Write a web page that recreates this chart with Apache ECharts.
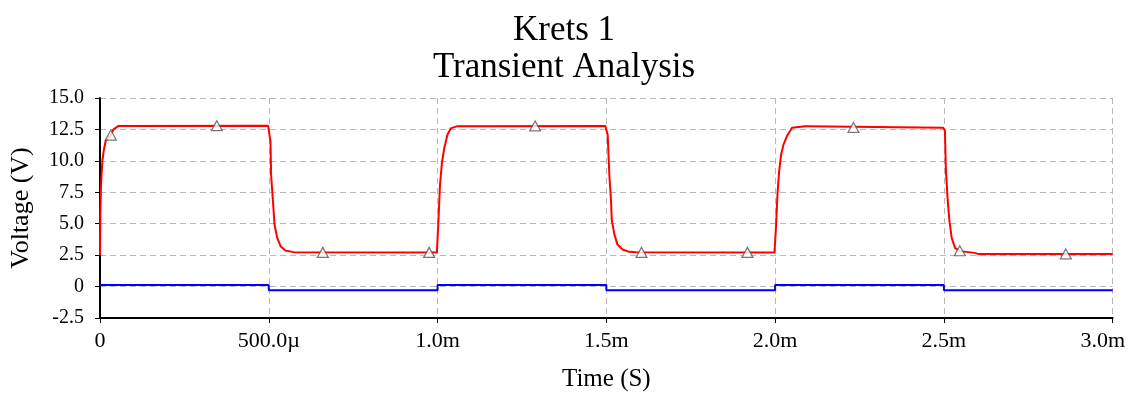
<!DOCTYPE html>
<html>
<head>
<meta charset="utf-8">
<script src="https://cdn.jsdelivr.net/npm/echarts@6/dist/echarts.min.js"></script>
<style>
html,body{margin:0;padding:0;background:#fff;}
#chart{width:1128px;height:399px;}
</style>
</head>
<body>
<div id="chart"></div>
<script>
// Time in microseconds
const xTicks = [0, 500, 1000, 1500, 2000, 2500, 3000];
const xTickLabels = ['0', '500.0\u00b5', '1.0m', '1.5m', '2.0m', '2.5m', '3.0m'];
const yTicks = [-2.5, 0, 2.5, 5, 7.5, 10, 12.5, 15];
const yTickLabels = ['-2.5', '0', '2.5', '5.0', '7.5', '10.0', '12.5', '15.0'];

// Red trace (output voltage)
const redT = [
  0, 1, 3, 7, 11, 17, 32, 40, 55, 498,
  500, 505, 507, 513, 517, 525, 535, 549, 574, 998,
  1000, 1003, 1007, 1013, 1020, 1029, 1039, 1059, 1497,
  1499, 1504, 1509, 1514, 1516, 1524, 1533, 1548, 1568, 1588, 1998,
  2000, 2003, 2007, 2012, 2018, 2025, 2035, 2050, 2089, 2095, 2100, 2498,
  2500, 2503, 2506, 2511, 2516, 2523, 2533, 2547, 2591, 2601, 3000
];
const redV = [
  2.5, 5.7, 8.1, 10.0, 10.8, 11.6, 12.05, 12.5, 12.78, 12.8,
  12.8, 11.55, 8.82, 6.55, 4.92, 3.87, 3.21, 2.87, 2.74, 2.72,
  2.72, 5.46, 8.03, 9.87, 11.03, 12.06, 12.58, 12.76, 12.78,
  12.78, 12.06, 8.82, 6.77, 5.3, 4.13, 3.34, 2.95, 2.76, 2.74, 2.72,
  2.68, 4.92, 7.37, 9.21, 10.53, 11.31, 11.97, 12.63, 12.76, 12.76, 12.66, 12.63,
  12.63, 12.4, 9.2, 6.96, 5.3, 3.87, 3.08, 2.82, 2.68, 2.6, 2.6
];

// Blue trace (input, step)
const blueT = [0, 500, 1000, 1500, 2000, 2500, 3000];
const blueV = [0.13, -0.3, 0.13, -0.3, 0.13, -0.3, -0.3];

// Triangle markers on the red trace
const markT = [32, 346, 660, 975, 1289, 1604, 1918, 2232, 2547, 2861];
const markV = [12.05, 12.8, 2.72, 2.72, 12.78, 2.72, 2.72, 12.66, 2.85, 2.6];

const FONT = 'Liberation Serif';
const zip = (a, b) => a.map((v, i) => [v, b[i]]);

const chart = echarts.init(document.getElementById('chart'), null, {renderer: 'canvas'});
chart.setOption({
  backgroundColor: '#ffffff',
  animation: false,
  title: {
    text: 'Krets 1\nTransient Analysis',
    left: 'center',
    top: 7,
    textStyle: {fontFamily: FONT, fontSize: 35, fontWeight: 'normal', color: '#000', lineHeight: 37}
  },
  grid: {left: 99, right: 12, top: 98, bottom: 81},
  xAxis: {
    type: 'value',
    min: 0, max: 3000, interval: 500,
    name: 'Time (S)',
    nameLocation: 'middle',
    nameGap: 49,
    nameTextStyle: {fontFamily: FONT, fontSize: 25, color: '#000'},
    axisLine: {show: true, onZero: false, lineStyle: {color: '#000', width: 2}},
    axisTick: {show: true, length: 5, lineStyle: {color: '#000', width: 1}},
    axisLabel: {
      fontFamily: FONT, fontSize: 22, color: '#000', margin: 12,
      formatter: v => {
        const i = xTicks.indexOf(v);
        const s = i >= 0 ? xTickLabels[i] : '';
        return v === 3000 ? '{r|' + s + '}' : s;
      },
      rich: {r: {fontFamily: FONT, fontSize: 22, color: '#000', padding: [0, 20, 0, 0]}}
    },
    splitLine: {show: true, lineStyle: {color: '#b8b8b8', type: [6, 4], width: 1}}
  },
  yAxis: {
    type: 'value',
    min: -2.5, max: 15, interval: 2.5,
    name: 'Voltage (V)',
    nameLocation: 'middle',
    nameGap: 66,
    nameTextStyle: {fontFamily: FONT, fontSize: 26, color: '#000'},
    axisLine: {show: true, onZero: false, lineStyle: {color: '#000', width: 2}},
    axisTick: {show: true, length: 5, lineStyle: {color: '#000', width: 1}},
    axisLabel: {
      fontFamily: FONT, fontSize: 20, color: '#000', margin: 16,
      formatter: v => {
        const i = yTicks.findIndex(t => Math.abs(t - v) < 1e-9);
        return i >= 0 ? yTickLabels[i] : '';
      }
    },
    splitLine: {show: true, lineStyle: {color: '#b8b8b8', type: [6, 4], width: 1}}
  },
  series: [
    {
      name: 'in', type: 'line', data: zip(blueT, blueV), step: 'end',
      showSymbol: false, lineStyle: {color: '#0000ff', width: 2}, z: 2
    },
    {
      name: 'out', type: 'line', data: zip(redT, redV),
      showSymbol: false, lineStyle: {color: '#ff0000', width: 2}, z: 3
    },
    {
      name: 'markers', type: 'scatter', data: zip(markT, markV),
      symbol: 'triangle', symbolSize: [11, 10],
      itemStyle: {color: '#ffffff', borderColor: '#555555', borderWidth: 1.2},
      z: 4
    }
  ]
});
</script>
</body>
</html>
